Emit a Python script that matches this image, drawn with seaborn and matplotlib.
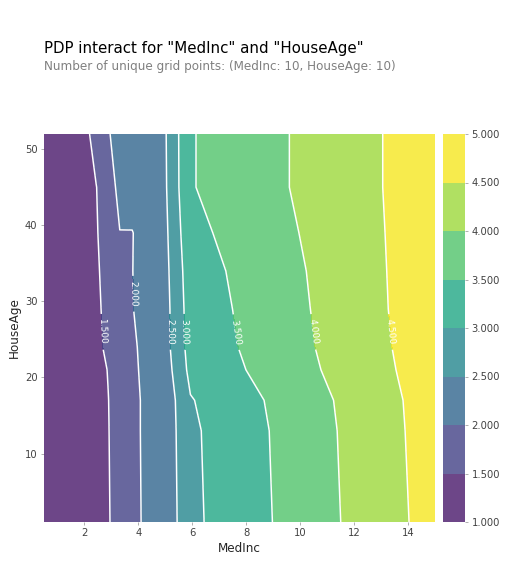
import matplotlib
matplotlib.use("Agg")
import matplotlib.pyplot as plt
import matplotlib.colors as mcolors
import seaborn as sns
import numpy as np

# grid points of the two features (percentile grid)
medinc_grid = [0.5, 1.97, 2.43, 2.88, 3.31, 3.77, 4.29, 4.92, 5.93, 15.0]
houseage_grid = [1, 13, 17, 21, 24, 29, 34, 39, 45, 52]

# pdp values, one list per HouseAge grid point (bottom -> top)
pdp_age_1 = [1.01, 1.13, 1.28, 1.46, 1.72, 1.93, 2.04, 2.08, 2.90, 4.69]
pdp_age_13 = [1.01, 1.14, 1.29, 1.48, 1.74, 1.93, 2.05, 2.12, 2.92, 4.72]
pdp_age_17 = [1.01, 1.15, 1.30, 1.49, 1.75, 1.93, 2.05, 2.12, 2.97, 4.73]
pdp_age_21 = [1.01, 1.16, 1.30, 1.52, 1.78, 1.95, 2.06, 2.20, 3.13, 4.76]
pdp_age_24 = [1.01, 1.18, 1.34, 1.63, 1.83, 1.96, 2.07, 2.26, 3.19, 4.78]
pdp_age_29 = [1.02, 1.20, 1.38, 1.67, 1.86, 1.99, 2.09, 2.26, 3.23, 4.80]
pdp_age_34 = [1.02, 1.22, 1.42, 1.70, 1.88, 1.995, 2.10, 2.29, 3.28, 4.80]
pdp_age_39 = [1.03, 1.23, 1.45, 1.78, 1.995, 1.99, 2.12, 2.32, 3.37, 4.79]
pdp_age_45 = [1.04, 1.25, 1.48, 1.88, 2.07, 2.15, 2.24, 2.36, 3.47, 4.78]
pdp_age_52 = [1.05, 1.27, 1.75, 1.98, 2.10, 2.18, 2.27, 2.38, 3.47, 4.78]

levels = [1.0, 1.5, 2.0, 2.5, 3.0, 3.5, 4.0, 4.5, 5.0]

sns.set_style("white")
plt.rcParams['font.family'] = ['DejaVu Sans']

pdp_mat = np.array([pdp_age_1, pdp_age_13, pdp_age_17, pdp_age_21, pdp_age_24,
                    pdp_age_29, pdp_age_34, pdp_age_39, pdp_age_45, pdp_age_52])
X, Y = np.meshgrid(medinc_grid, houseage_grid)

fig = plt.figure(figsize=(505 / 72, 564 / 72), dpi=72)

# title block
fig.text(44 / 505, 1 - 53 / 564, 'PDP interact for "MedInc" and "HouseAge"',
         fontsize=15, color='black', va='baseline', ha='left')
fig.text(44 / 505, 1 - 70 / 564, 'Number of unique grid points: (MedInc: 10, HouseAge: 10)',
         fontsize=12, color='grey', va='baseline', ha='left')

ax = fig.add_axes([44 / 505, 42 / 564, 391 / 505, 388 / 564])
cax = fig.add_axes([443 / 505, 42 / 564, 22 / 505, 388 / 564])

cmap = sns.color_palette("viridis", as_cmap=True)
norm = mcolors.Normalize(vmin=pdp_mat.min(), vmax=pdp_mat.max())
cf = ax.contourf(X, Y, pdp_mat, levels=levels, cmap=cmap, norm=norm, alpha=0.8)
cs = ax.contour(cf, levels=cf.levels, colors='white', linewidths=1.5)
# label spots roughly where the original put them
label_spots = [(2.7, 26), (3.8, 31), (5.2, 26), (5.8, 26), (7.7, 26), (10.5, 26), (13.4, 26)]
ax.clabel(cs, fmt='%.3f', fontsize=9, inline=True, colors='white', manual=label_spots)

ax.set_xlabel('MedInc', fontsize=12)
ax.set_ylabel('HouseAge', fontsize=12)
ax.tick_params(axis='both', which='major', labelsize=10, labelcolor='#424242',
               colors='#9E9E9E', bottom=True, left=True, length=3)
for s in ax.spines.values():
    s.set_visible(False)

cb = fig.colorbar(cf, cax=cax, format='%.3f')
cb.outline.set_visible(False)
cax.tick_params(labelsize=10, labelcolor='#424242', colors='#9E9E9E', right=True, length=3)

fig.savefig('out.png', dpi=72)
